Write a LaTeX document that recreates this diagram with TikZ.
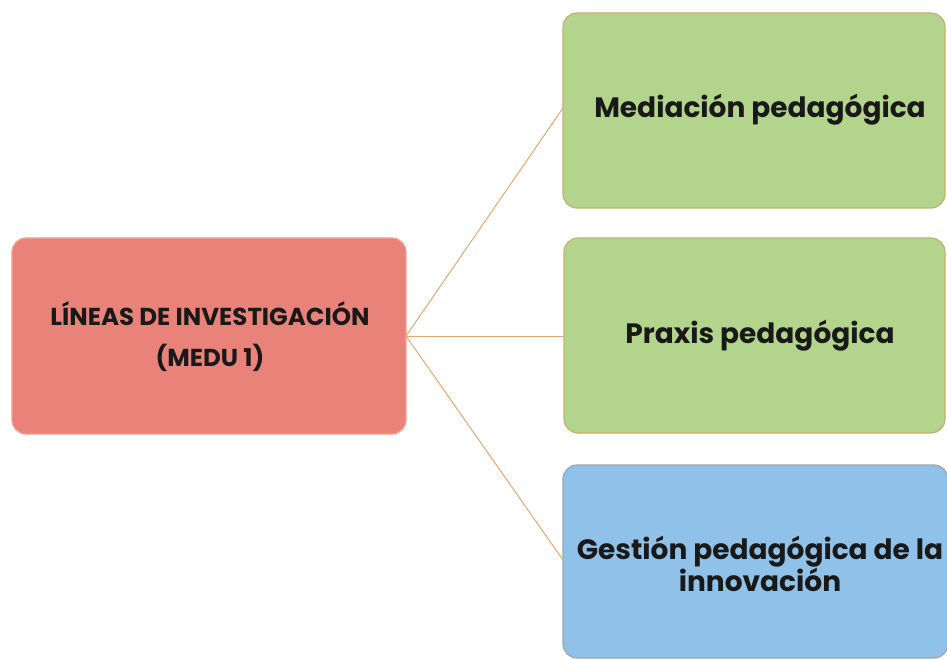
\documentclass[tikz,border=0pt]{standalone}
\usepackage{fontspec}
\setmainfont{Poppins}
\definecolor{redfill}{HTML}{E9837A}
\definecolor{redline}{HTML}{F0A090}
\definecolor{greenfill}{HTML}{B2D48C}
\definecolor{greenline}{HTML}{C8B070}
\definecolor{bluefill}{HTML}{8FC1E9}
\definecolor{blueline}{HTML}{9AA8B0}
\definecolor{linkc}{HTML}{E2A878}
\tikzset{
  box/.style={rounded corners=14pt, line width=1.2pt},
  lbl/.style={align=center, font=\bfseries, text=black!90, inner sep=0pt},
  link/.style={draw=linkc, line width=1pt}
}
\begin{document}
\begin{tikzpicture}[x=1pt,y=-1pt]
\useasboundingbox (0,0) rectangle (947,660);
\fill[white] (0,0) rectangle (947,660);
\begin{scope}
\clip (0,0) rectangle (947,660);
\draw[box, fill=redfill, draw=redline] (12,238) rectangle (406,434);
\draw[box, fill=greenfill, draw=greenline] (563,13) rectangle (945,208);
\draw[box, fill=greenfill, draw=greenline] (564,238) rectangle (945,433);
\draw[box, fill=bluefill, draw=blueline] (563,465) rectangle (948,658);
\end{scope}
\coordinate (root) at (406,336);
\coordinate (a) at (563,108);
\coordinate (b) at (564,336);
\coordinate (c) at (563,560);
\draw[link] (root) -- (a);
\draw[link] (root) -- (b);
\draw[link] (root) -- (c);
\node[lbl, font=\bfseries\fontsize{24.5}{41}\selectfont] (t0) at (210,337) {LÍNEAS DE INVESTIGACIÓN\\(MEDU 1)};
\node[lbl, font=\bfseries\fontsize{28}{30}\selectfont] (t1) at (760,110) {Mediación pedagógica};
\node[lbl, font=\bfseries\fontsize{28}{30}\selectfont] (t2) at (760,336) {Praxis pedagógica};
\node[lbl, font=\bfseries\fontsize{28}{30}\selectfont] (t3) at (760,564) {Gestión pedagógica de la\\innovación};
\end{tikzpicture}
\end{document}
